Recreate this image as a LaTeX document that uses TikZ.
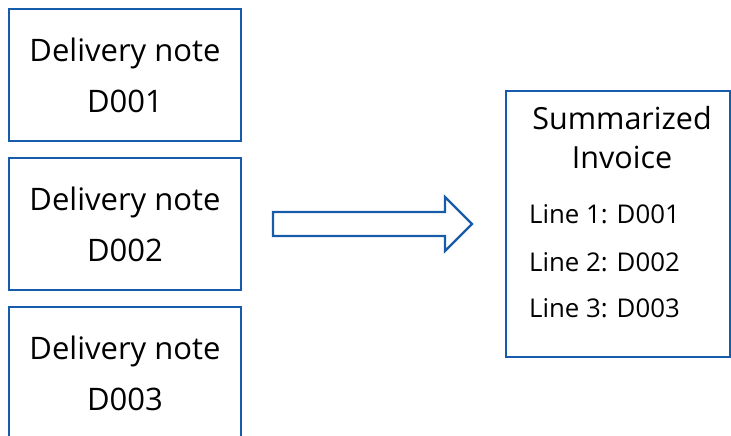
\documentclass[tikz,border=0pt]{standalone}
\usepackage{fontspec}
\setmainfont{Open Sans}
\definecolor{boxblue}{RGB}{22,92,170}
\begin{document}
\begin{tikzpicture}[x=1pt,y=-1pt,
  note/.style={draw=boxblue,line width=2.2pt,minimum width=232pt,minimum height=132pt,inner sep=0pt,
    align=center,font=\fontsize{31}{51}\selectfont},
  lbl/.style={inner sep=0pt,anchor=west,font=\fontsize{25.8}{28}\selectfont}]
\useasboundingbox (0,0) rectangle (731,436);
\begin{scope}
\clip (0,0) rectangle (731,436);
\node[note] (n1) at (125,75) {Delivery note\\D001};
\node[note] (n2) at (125,224) {Delivery note\\D002};
\node[note] (n3) at (125,373) {Delivery note\\D003};
\node[draw=boxblue,line width=2.2pt,minimum width=224pt,minimum height=266pt,inner sep=0pt] (inv) at (618,224) {};
\end{scope}
\node[inner sep=0pt,align=center,font=\fontsize{30.5}{39}\selectfont] (title) at (622,138) {Summarized\\Invoice};
\node[lbl] (l1) at (529,214) {Line 1: D001};
\node[lbl] (l2) at (529,262) {Line 2: D002};
\node[lbl] (l3) at (529,308) {Line 3: D003};
\draw[boxblue,line width=2.2pt,line join=miter]
  (273,212) -- (445,212) -- (445,197) -- (472,224) -- (445,251) -- (445,236) -- (273,236) -- cycle;
\end{tikzpicture}
\end{document}
